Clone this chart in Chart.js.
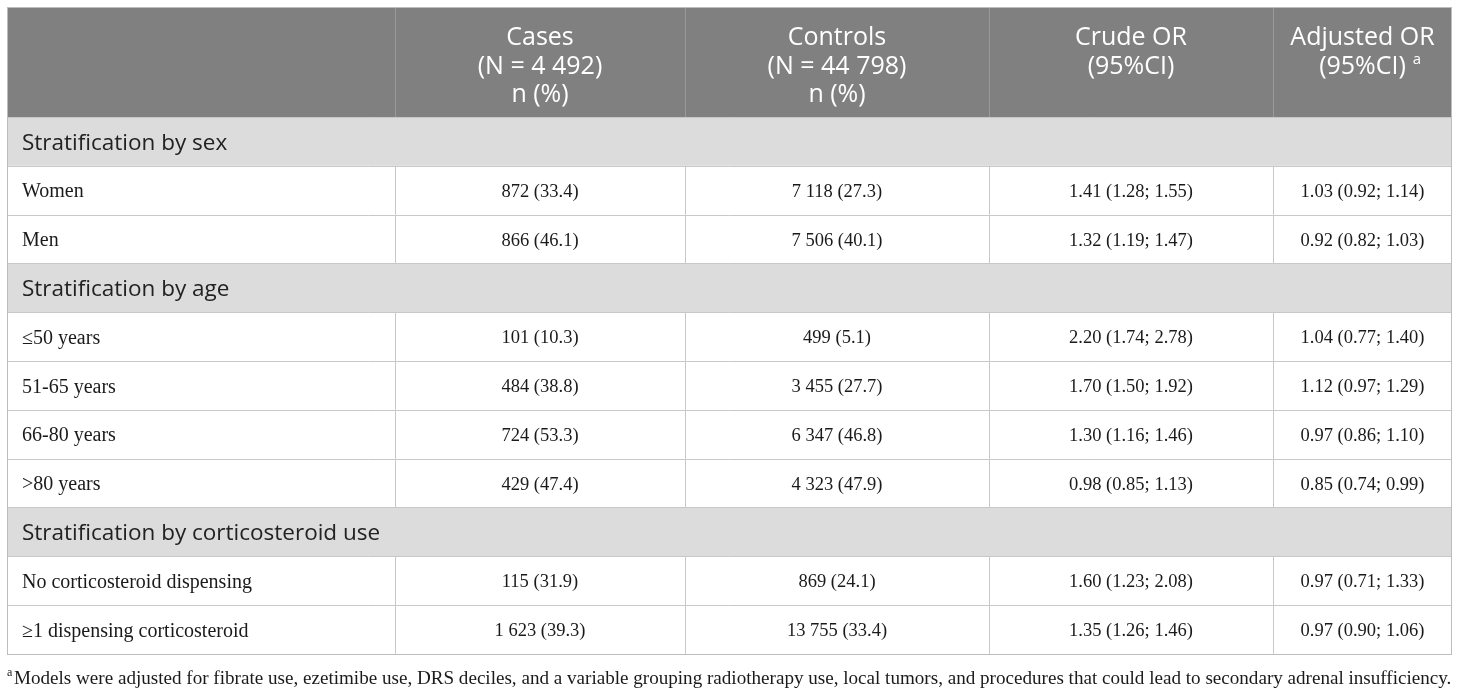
<!DOCTYPE html>
<html lang="en">
<head>
  <meta charset="UTF-8" />
  <title>Stratified analyses table</title>
  <script src="https://cdn.jsdelivr.net/npm/chart.js"></script>
  <style>
    * { margin: 0; padding: 0; box-sizing: border-box; }
    html, body { width: 100%; height: 100%; background: #fff; overflow: hidden; }
    #tableChart { display: block; }
  </style>
</head>
<body>
  <canvas id="tableChart" width="1460" height="691"></canvas>

  <script>
    /* ====================================
       Table content
    ==================================== */
    const headerCases = ['Cases', '(N = 4 492)', 'n (%)'];
    const headerControls = ['Controls', '(N = 44 798)', 'n (%)'];
    const headerCrude = ['Crude OR', '(95%CI)'];
    const headerAdjusted = ['Adjusted OR', '(95%CI)'];

    const sectionTitles = ['Stratification by sex', 'Stratification by age', 'Stratification by corticosteroid use'];
    const sectionSizes = [2, 4, 2];

    const rowLabels = ['Women', 'Men', '\u226450 years', '51-65 years', '66-80 years', '>80 years',
      'No corticosteroid dispensing', '\u22651 dispensing corticosteroid'];
    const casesValues = ['872 (33.4)', '866 (46.1)', '101 (10.3)', '484 (38.8)', '724 (53.3)', '429 (47.4)',
      '115 (31.9)', '1 623 (39.3)'];
    const controlsValues = ['7 118 (27.3)', '7 506 (40.1)', '499 (5.1)', '3 455 (27.7)', '6 347 (46.8)',
      '4 323 (47.9)', '869 (24.1)', '13 755 (33.4)'];
    const crudeOR = ['1.41 (1.28; 1.55)', '1.32 (1.19; 1.47)', '2.20 (1.74; 2.78)', '1.70 (1.50; 1.92)',
      '1.30 (1.16; 1.46)', '0.98 (0.85; 1.13)', '1.60 (1.23; 2.08)', '1.35 (1.26; 1.46)'];
    const adjustedOR = ['1.03 (0.92; 1.14)', '0.92 (0.82; 1.03)', '1.04 (0.77; 1.40)', '1.12 (0.97; 1.29)',
      '0.97 (0.86; 1.10)', '0.85 (0.74; 0.99)', '0.97 (0.71; 1.33)', '0.97 (0.90; 1.06)'];

    const footnoteMark = 'a';
    const footnoteText = 'Models were adjusted for fibrate use, ezetimibe use, DRS deciles, and a variable grouping ' +
      'radiotherapy use, local tumors, and procedures that could lead to secondary adrenal insufficiency.';

    /* ====================================
       Layout (in page units of the scales)
    ==================================== */
    const colEdges = [7, 395, 685, 989, 1273, 1452];
    const tableTop = 7;
    const headerBottom = 117;
    const rowHeight = 48.8;
    const textShift = 2; // canvas 'middle' sits a little high compared with the reference

    const headerBg = '#808080';
    const sectionBg = '#dcdcdc';
    const gridColor = '#c8c8c8';
    const sansFont = "'Open Sans', 'Noto Sans', sans-serif";
    const serifFont = "'Liberation Serif', 'DejaVu Serif', serif";

    // Build the row list (section rows and data rows) from the arrays above
    const rows = [];
    let dataIdx = 0;
    sectionTitles.forEach((title, s) => {
      rows.push({ type: 'section', title: title });
      for (let k = 0; k < sectionSizes[s]; k++) {
        rows.push({
          type: 'data',
          cells: [rowLabels[dataIdx], casesValues[dataIdx], controlsValues[dataIdx], crudeOR[dataIdx], adjustedOR[dataIdx]]
        });
        dataIdx++;
      }
    });

    /* ====================================
       Plugin that paints the table on the chart scales
    ==================================== */
    const tablePlugin = {
      id: 'tablePlugin',
      afterDraw(chart) {
        const ctx = chart.ctx;
        const xs = chart.scales.x;
        const ys = chart.scales.y;
        const X = v => xs.getPixelForValue(v);
        const Y = v => ys.getPixelForValue(v);
        const left = X(colEdges[0]);
        const right = X(colEdges[colEdges.length - 1]);
        const rowTop = i => Y(headerBottom + i * rowHeight);
        const tableBottom = rowTop(rows.length);

        ctx.save();

        // Header background
        ctx.fillStyle = headerBg;
        ctx.fillRect(left, Y(tableTop), right - left, Y(headerBottom) - Y(tableTop));

        // Section backgrounds
        rows.forEach((r, i) => {
          if (r.type === 'section') {
            ctx.fillStyle = sectionBg;
            ctx.fillRect(left, rowTop(i), right - left, rowTop(i + 1) - rowTop(i));
          }
        });

        // Header text
        const headers = [[], headerCases, headerControls, headerCrude, headerAdjusted];
        ctx.fillStyle = '#ffffff';
        ctx.font = '25px ' + sansFont;
        ctx.textAlign = 'center';
        ctx.textBaseline = 'middle';
        headers.forEach((lines, c) => {
          const cx = (X(colEdges[c]) + X(colEdges[c + 1])) / 2;
          lines.forEach((txt, l) => {
            ctx.fillText(txt, cx, Y(36 + textShift + l * 28.5));
          });
        });
        // superscript on the adjusted OR header
        {
          const cx = (X(colEdges[4]) + X(colEdges[5])) / 2;
          const w = ctx.measureText(headerAdjusted[1]).width;
          ctx.font = '15px ' + sansFont;
          ctx.textAlign = 'left';
          ctx.fillText(footnoteMark, cx + w / 2 + 7, Y(60));
        }

        // Body text
        rows.forEach((r, i) => {
          const cy = (rowTop(i) + rowTop(i + 1)) / 2 + textShift;
          if (r.type === 'section') {
            ctx.fillStyle = '#222222';
            ctx.font = '22.5px ' + sansFont;
            ctx.textAlign = 'left';
            ctx.fillText(r.title, X(colEdges[0] + 15), cy);
          } else {
            ctx.fillStyle = '#1a1a1a';
            r.cells.forEach((txt, c) => {
              if (c === 0) {
                ctx.font = '20px ' + serifFont;
                ctx.textAlign = 'left';
                ctx.fillText(txt, X(colEdges[0] + 15), cy);
              } else {
                ctx.font = '18.5px ' + serifFont;
                ctx.textAlign = 'center';
                ctx.fillText(txt, (X(colEdges[c]) + X(colEdges[c + 1])) / 2, cy);
              }
            });
          }
        });

        // Header column separators
        ctx.strokeStyle = '#9a9a9a';
        ctx.lineWidth = 1;
        for (let c = 1; c < colEdges.length - 1; c++) {
          const x = Math.round(X(colEdges[c])) + 0.5;
          ctx.beginPath();
          ctx.moveTo(x, Y(tableTop));
          ctx.lineTo(x, Y(headerBottom));
          ctx.stroke();
        }

        // Horizontal grid lines
        ctx.strokeStyle = gridColor;
        for (let i = 0; i <= rows.length; i++) {
          const y = Math.round(rowTop(i)) + 0.5;
          ctx.beginPath();
          ctx.moveTo(left, y);
          ctx.lineTo(right, y);
          ctx.stroke();
        }

        // Vertical grid lines in data rows
        rows.forEach((r, i) => {
          if (r.type !== 'data') return;
          for (let c = 1; c < colEdges.length - 1; c++) {
            const x = Math.round(X(colEdges[c])) + 0.5;
            ctx.beginPath();
            ctx.moveTo(x, rowTop(i));
            ctx.lineTo(x, rowTop(i + 1));
            ctx.stroke();
          }
        });

        // Outer border
        ctx.strokeStyle = '#bdbdbd';
        ctx.strokeRect(Math.round(left) + 0.5, Math.round(Y(tableTop)) + 0.5,
          Math.round(right - left) - 1, Math.round(tableBottom - Y(tableTop)));

        // Footnote, fitted to the table width
        ctx.fillStyle = '#1a1a1a';
        ctx.textAlign = 'left';
        ctx.textBaseline = 'alphabetic';
        ctx.font = '12px ' + serifFont;
        ctx.fillText(footnoteMark, left, Y(676));
        const startX = X(colEdges[0] + 7);
        const avail = right - startX;
        let size = 18;
        ctx.font = size + 'px ' + serifFont;
        const w = ctx.measureText(footnoteText).width;
        size = Math.min(20, size * avail / w);
        ctx.font = size.toFixed(2) + 'px ' + serifFont;
        ctx.fillText(footnoteText, startX, Y(684));

        ctx.restore();
      }
    };

    /* ====================================
       Chart with hidden page-unit scales
    ==================================== */
    const chart = new Chart(document.getElementById('tableChart').getContext('2d'), {
      type: 'scatter',
      data: { datasets: [{ data: [] }] },
      options: {
        responsive: false,
        animation: false,
        layout: { padding: 0 },
        plugins: { legend: { display: false }, tooltip: { enabled: false } },
        scales: {
          x: { type: 'linear', min: 0, max: 1460, display: false },
          y: { type: 'linear', min: 0, max: 691, reverse: true, display: false }
        }
      },
      plugins: [tablePlugin]
    });
  </script>
</body>
</html>
